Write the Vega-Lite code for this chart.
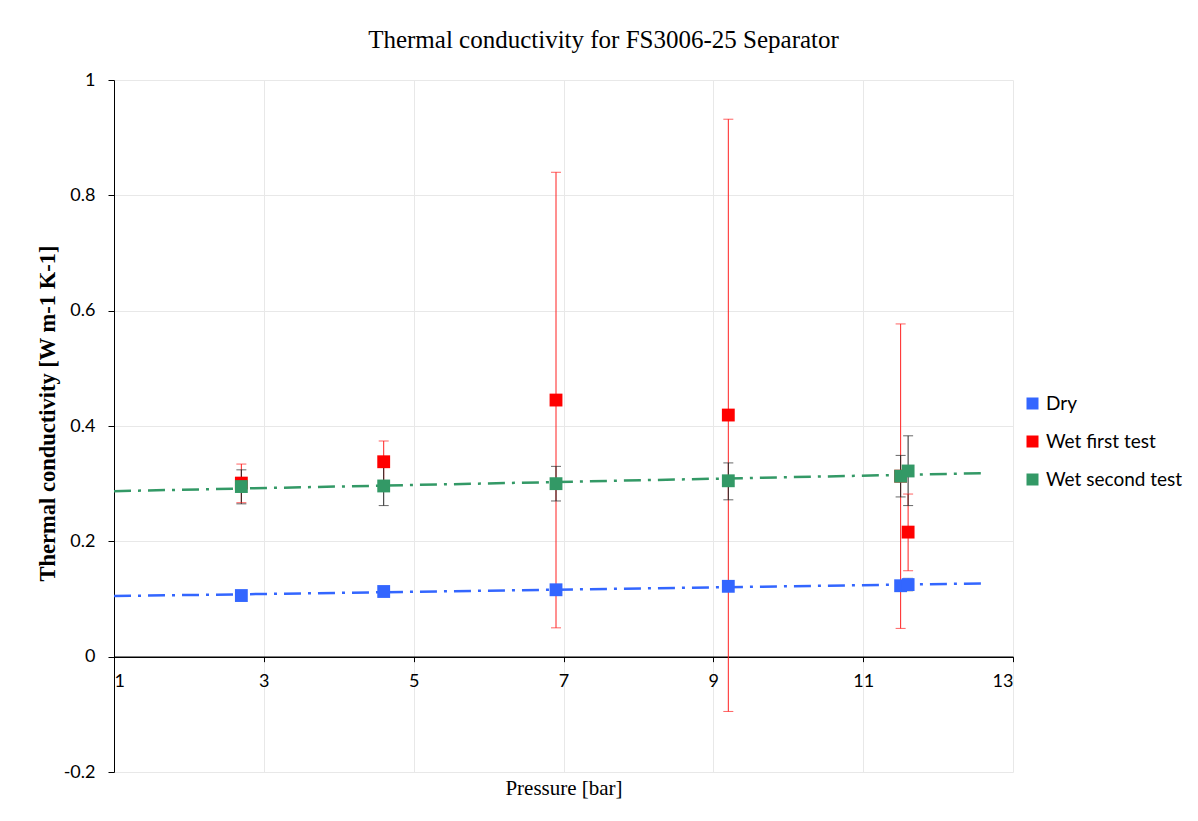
{
  "$schema": "https://vega.github.io/schema/vega-lite/v6.json",
  "width": 899,
  "height": 692,
  "autosize": {"type": "none"},
  "padding": {"left": 114, "top": 80, "right": 185, "bottom": 49},
  "background": "white",
  "title": {
    "text": "Thermal conductivity for FS3006-25 Separator",
    "font": "Liberation Serif",
    "fontSize": 25,
    "fontWeight": "normal",
    "color": "#000000",
    "anchor": "middle",
    "dx": 40,
    "offset": 18
  },
  "config": {
    "view": {"stroke": null},
    "axis": {
      "gridColor": "#e8e8e8",
      "gridWidth": 1,
      "domainColor": "#000000",
      "tickColor": "#000000",
      "labelFont": "Lato",
      "labelFontSize": 18,
      "labelColor": "#000000",
      "titleColor": "#000000",
      "titleFont": "Liberation Serif"
    }
  },
  "datasets": {
    "pts": [
      {"series": "Dry", "pressure": 2.7, "k": 0.106},
      {"series": "Dry", "pressure": 4.6, "k": 0.113},
      {"series": "Dry", "pressure": 6.9, "k": 0.116},
      {"series": "Dry", "pressure": 9.2, "k": 0.122},
      {"series": "Dry", "pressure": 11.5, "k": 0.123},
      {"series": "Dry", "pressure": 11.6, "k": 0.125, "lo": 0.114, "hi": 0.136},
      {"series": "Wet first test", "pressure": 2.7, "k": 0.301, "lo": 0.267, "hi": 0.334},
      {"series": "Wet first test", "pressure": 4.6, "k": 0.338, "lo": 0.302, "hi": 0.374},
      {"series": "Wet first test", "pressure": 6.9, "k": 0.445, "lo": 0.050, "hi": 0.840},
      {"series": "Wet first test", "pressure": 9.2, "k": 0.419, "lo": -0.095, "hi": 0.932},
      {"series": "Wet first test", "pressure": 11.5, "k": 0.313, "lo": 0.049, "hi": 0.577},
      {"series": "Wet first test", "pressure": 11.6, "k": 0.216, "lo": 0.149, "hi": 0.282},
      {"series": "Wet second test", "pressure": 2.7, "k": 0.295, "lo": 0.265, "hi": 0.324},
      {"series": "Wet second test", "pressure": 4.6, "k": 0.296, "lo": 0.262, "hi": 0.330},
      {"series": "Wet second test", "pressure": 6.9, "k": 0.300, "lo": 0.270, "hi": 0.330},
      {"series": "Wet second test", "pressure": 9.2, "k": 0.305, "lo": 0.272, "hi": 0.336},
      {"series": "Wet second test", "pressure": 11.5, "k": 0.313, "lo": 0.277, "hi": 0.349},
      {"series": "Wet second test", "pressure": 11.6, "k": 0.322, "lo": 0.262, "hi": 0.383}
    ],
    "trend": [
      {"series": "Dry", "pressure": 1.0, "k": 0.105},
      {"series": "Dry", "pressure": 12.65, "k": 0.1271},
      {"series": "Wet second test", "pressure": 1.0, "k": 0.287},
      {"series": "Wet second test", "pressure": 12.65, "k": 0.3183}
    ]
  },
  "encoding": {
    "x": {
      "field": "pressure",
      "type": "quantitative",
      "title": "Pressure [bar]",
      "scale": {"domain": [1, 13], "nice": false, "zero": false},
      "axis": {
        "values": [1, 3, 5, 7, 9, 11, 13],
        "offset": -115.33,
        "grid": true,
        "domainWidth": 1.5,
        "tickSize": 5,
        "labelPadding": 11,
        "titleFontSize": 21,
        "titleFontWeight": "normal",
        "titleY": 132,
        "titleBaseline": "middle"
      }
    },
    "y": {
      "field": "k",
      "type": "quantitative",
      "title": "Thermal conductivity [W m-1 K-1]",
      "scale": {"domain": [-0.2, 1], "nice": false, "zero": false},
      "axis": {
        "values": [-0.2, 0, 0.2, 0.4, 0.6, 0.8, 1],
        "format": ".1~f",
        "labelExpr": "replace(datum.label, '\u2212', '-')",
        "grid": true,
        "domainWidth": 1,
        "tickSize": 6,
        "labelPadding": 13,
        "titleFontSize": 22.5,
        "titleFontWeight": "bold",
        "titleX": -67,
        "titleY": 333,
        "titleAngle": -90,
        "titleAlign": "center",
        "titleBaseline": "middle"
      }
    }
  },
  "resolve": {"scale": {"color": "independent"}},
  "layer": [
    {
      "data": {"name": "trend"},
      "mark": {"type": "line", "strokeWidth": 2.5, "strokeDash": [17, 7, 3, 7]},
      "encoding": {
        "color": {
          "field": "series",
          "type": "nominal",
          "scale": {"domain": ["Dry", "Wet first test", "Wet second test"], "range": ["#3366ff", "#ff0000", "#339966"]},
          "legend": null
        },
        "detail": {"field": "series"}
      }
    },
    {
      "data": {"name": "pts"},
      "mark": {"type": "rule", "strokeWidth": 1},
      "encoding": {
        "y": {
          "field": "lo",
          "type": "quantitative",
          "title": "Thermal conductivity [W m-1 K-1]",
          "scale": {"domain": [-0.2, 1], "nice": false, "zero": false}
        },
        "y2": {"field": "hi"},
        "color": {
          "field": "series",
          "type": "nominal",
          "scale": {"domain": ["Dry", "Wet first test", "Wet second test"], "range": ["#808080", "#ff2020", "#262626"]},
          "legend": null
        }
      }
    },
    {
      "data": {"name": "pts"},
      "transform": [{"fold": ["lo", "hi"], "as": ["end", "val"]}],
      "mark": {"type": "tick", "orient": "horizontal", "size": 10, "thickness": 1},
      "encoding": {
        "y": {
          "field": "val",
          "type": "quantitative",
          "title": "Thermal conductivity [W m-1 K-1]",
          "scale": {"domain": [-0.2, 1], "nice": false, "zero": false}
        },
        "color": {
          "field": "series",
          "type": "nominal",
          "scale": {"domain": ["Dry", "Wet first test", "Wet second test"], "range": ["#808080", "#ff2020", "#262626"]},
          "legend": null
        }
      }
    },
    {
      "data": {"name": "pts"},
      "mark": {"type": "square", "size": 165, "opacity": 1, "filled": true},
      "encoding": {
        "color": {
          "field": "series",
          "type": "nominal",
          "scale": {"domain": ["Dry", "Wet first test", "Wet second test"], "range": ["#3366ff", "#ff0000", "#339966"]},
          "legend": {
            "title": null,
            "orient": "none",
            "legendX": 909,
            "legendY": 314,
            "padding": 0,
            "symbolType": "square",
            "symbolSize": 144,
            "symbolStrokeWidth": 0,
            "symbolOpacity": 1,
            "labelFont": "Lato",
            "labelFontSize": 19,
            "labelColor": "#000000",
            "labelOffset": 4,
            "rowPadding": 18
          }
        }
      }
    }
  ]
}
